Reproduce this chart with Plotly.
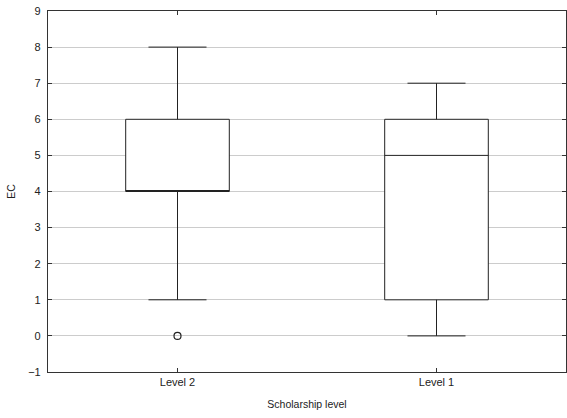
import plotly.graph_objects as go

categories = ["Level 2", "Level 1"]
q1 = [4, 1]
median = [4, 5]
q3 = [6, 6]
lower_whisker = [1, 0]
upper_whisker = [8, 7]
outlier_cat = ["Level 2"]
outlier_val = [0]
y_ticks = list(range(-1, 10))

fig = go.Figure()
fig.add_trace(go.Box(
    x=categories, q1=q1, median=median, q3=q3,
    lowerfence=lower_whisker, upperfence=upper_whisker,
    fillcolor="white", line=dict(color="#222222", width=1),
    width=0.4, whiskerwidth=0.56, boxpoints=False, showlegend=False,
))
fig.add_trace(go.Scatter(
    x=outlier_cat, y=outlier_val, mode="markers",
    marker=dict(symbol="circle-open", size=7, color="#222222", line=dict(width=1.2)),
    showlegend=False,
))

font = dict(family="Liberation Sans, Arial, sans-serif", size=11, color="#222222")
fig.update_layout(
    width=567, height=418,
    margin=dict(l=48, r=1, t=11, b=46),
    paper_bgcolor="white", plot_bgcolor="white",
    font=font,
    xaxis=dict(
        type="category", range=[-0.5, 1.5],
        showline=True, linecolor="#333333", linewidth=1.2, mirror="ticks",
        ticks="inside", ticklen=4, tickcolor="#333333",
        showgrid=False,
        title=dict(text="Scholarship level", standoff=13, font=dict(size=10.5)),
    ),
    yaxis=dict(
        range=[-1, 9], tickvals=y_ticks,
        showline=True, linecolor="#333333", linewidth=1.2, mirror="ticks",
        ticks="inside", ticklen=4, tickcolor="#333333", ticklabelstandoff=4,
        showgrid=True, gridcolor="#cccccc", gridwidth=1, zeroline=False,
        title=dict(text="EC", standoff=10, font=dict(size=10.5)),
    ),
)
fig.write_html("out.html")
